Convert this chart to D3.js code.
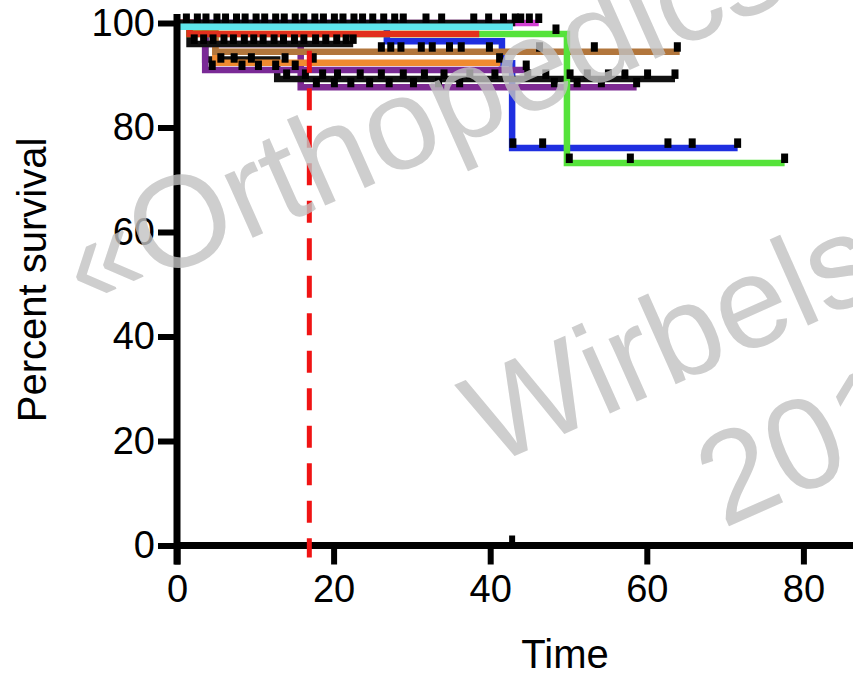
<!DOCTYPE html>
<html>
<head>
<meta charset="utf-8">
<script src="https://cdn.jsdelivr.net/npm/d3@7"></script>
<style>
  body { margin: 0; background: #fff; }
  svg { display: block; font-family: "Liberation Sans", Arial, Helvetica, sans-serif; }
</style>
</head>
<body>
<div id="km_chart"></div>
<script>
// Tick labels
var xTicks = [0, 20, 40, 60, 80];
var yTicks = [0, 20, 40, 60, 80, 100];

// Survival curves: step points [time, percent], last time, censored times
var blue = { color: "#1f2fe0", steps: [[0, 100], [26.8, 96.5], [41.5, 92.3], [42.8, 76.1]], end: 71.6,
  censor: [42.9, 46.7, 62.7, 65.8, 71.6] };
var blackA = { color: "#111111", steps: [[0, 100]], end: 43.2,
  censor: [1.2, 2.6, 3.7, 5.1, 6.2, 7.6, 8.7, 10.1, 11.2, 12.6, 13.7, 15.1, 16.2, 17.6, 18.7, 20.1, 21.2, 22.6, 23.7, 25.0, 26.4, 27.8, 28.9, 31.8, 33.8, 37.9, 39.8, 41.7, 43.2] };
var magenta = { color: "#d23fd2", steps: [[0, 100]], end: 46.2, censor: [43.9, 45.0, 46.2] };
var green = { color: "#55e33a", steps: [[0, 100], [1.6, 97.9], [49.8, 73.2]], end: 77.6, censor: [48.4, 50.1, 57.9, 77.6] };
var red = { color: "#e2301c", steps: [[0, 100], [1.6, 97.9]], end: 38.6, censor: [] };
var cyan = { color: "#5ee6ec", steps: [[0, 99.3]], end: 42.9, censor: [] };
var purpleB = { color: "#7d2a92", steps: [[0, 100], [3.6, 96], [15.8, 87.7]], end: 58.7,
  censor: [17.8, 20.1, 22.2, 24.6, 27.1, 30.2, 33.4, 36.1, 48.2, 51.1, 54.2, 58.7] };
var blackC = { color: "#111111", steps: [[0, 100], [3.6, 93], [12.8, 89.3]], end: 63.6,
  censor: [14.0, 16.4, 18.6, 20.5, 23.4, 26.1, 28.9, 31.6, 34.1, 37.4, 40.6, 44.8, 47.1, 50.2, 52.4, 55.1, 57.2, 60.1, 63.6] };
var purpleA = { color: "#7a2a96", steps: [[0, 100], [3.6, 91]], end: 45, censor: [4.5, 8.3, 10.4, 12.6, 15.1, 44.6] };
var orange = { color: "#f08a30", steps: [[0, 100], [1.6, 98], [4.9, 92.4]], end: 41.3, censor: [5.6, 7.3, 9.5, 13.8, 17.4, 41.2] };
var brown = { color: "#b2763c", steps: [[0, 100], [1.6, 98], [4.9, 94.5]], end: 64.2,
  censor: [26.1, 27.3, 28.6, 31.2, 32.6, 34.8, 36.3, 39.9, 46.3, 53.3, 63.9] };
var blackB = { color: "#111111", steps: [[0, 100], [1.6, 96]], end: 22.5,
  censor: [2.2, 3.4, 4.6, 6.0, 7.2, 8.6, 9.8, 11.0, 12.4, 13.6, 15.0, 16.2, 17.7, 19.0, 20.4, 21.6, 22.5] };

var series = [blue, purpleB, blackC, purpleA, orange, brown, blackB, green, red, magenta, blackA, cyan];
var axisCensor = [42.8];
var cutoffTime = 16.9;
var cutoffTop = 94.7;

var watermark = ["\u00abOrthopedics", "Wirbels\u00e4ule", "2014\u00bb"];

var width = 853, height = 677;

var svg = d3.select("#km_chart")
  .append("svg")
  .attr("width", width)
  .attr("height", height);

var x = d3.scaleLinear().domain([0, 100]).range([177, 960]);
var y = d3.scaleLinear().domain([0, 100]).range([545.5, 23]);

// Step curves
var line = d3.line()
  .x(function(d) { return x(d[0]); })
  .y(function(d) { return y(d[1]); })
  .curve(d3.curveStepAfter);

series.forEach(function(s) {
  var pts = s.steps.slice();
  pts.push([s.end, s.steps[s.steps.length - 1][1]]);
  svg.append("path")
    .attr("d", line(pts))
    .attr("fill", "none")
    .attr("stroke", s.color)
    .attr("stroke-width", 6.5);
});

// Censor ticks
function valueAt(s, t) {
  var v = s.steps[0][1];
  s.steps.forEach(function(p) { if (p[0] <= t) v = p[1]; });
  return v;
}
series.forEach(function(s) {
  svg.append("g")
    .selectAll("rect")
    .data(s.censor)
    .enter().append("rect")
    .attr("x", function(d) { return x(d) - 3.5; })
    .attr("y", function(d) { return y(valueAt(s, d)) - 9.5; })
    .attr("width", 7)
    .attr("height", 9.5)
    .attr("fill", "#000");
});

// Axes
var xAxis = svg.append("g")
  .attr("transform", "translate(0," + y(0) + ")")
  .call(d3.axisBottom(x).tickValues(xTicks).tickSize(19).tickSizeOuter(0).tickPadding(8));
var yAxis = svg.append("g")
  .attr("transform", "translate(" + x(0) + ",0)")
  .call(d3.axisLeft(y).tickValues(yTicks).tickSize(19).tickSizeOuter(0).tickPadding(3));

[xAxis, yAxis].forEach(function(a) {
  a.select(".domain").remove();
  a.selectAll(".tick line").attr("stroke", "#000").attr("stroke-width", 6);
  a.selectAll(".tick text")
    .attr("fill", "#000")
    .style("font-size", "38px");
});
xAxis.selectAll(".tick text").attr("dy", "0.78em");

svg.append("line")
  .attr("x1", x(0)).attr("x2", width)
  .attr("y1", y(0)).attr("y2", y(0))
  .attr("stroke", "#000").attr("stroke-width", 7);
svg.append("line")
  .attr("x1", x(0)).attr("x2", x(0))
  .attr("y1", y(0) + 19).attr("y2", y(101.7))
  .attr("stroke", "#000").attr("stroke-width", 7);

svg.selectAll(".axisCensor")
  .data(axisCensor)
  .enter().append("rect")
  .attr("x", function(d) { return x(d) - 3; })
  .attr("y", y(0) - 10)
  .attr("width", 6)
  .attr("height", 10)
  .attr("fill", "#000");

// Dashed cut-off line
svg.append("line")
  .attr("x1", x(cutoffTime)).attr("x2", x(cutoffTime))
  .attr("y1", y(cutoffTop)).attr("y2", y(0) + 12)
  .attr("stroke", "#f01414")
  .attr("stroke-width", 5)
  .attr("stroke-dasharray", "22,15.5");

// Axis titles
svg.append("text")
  .attr("x", 565).attr("y", 668)
  .attr("text-anchor", "middle")
  .style("font-size", "40px")
  .text("Time");
svg.append("text")
  .attr("transform", "translate(46,280) rotate(-90)")
  .attr("text-anchor", "middle")
  .style("font-size", "40px")
  .text("Percent survival");

// Watermark
var wmPos = [[86, 312], [490, 467], [723, 529]];
svg.append("g")
  .selectAll("text")
  .data(watermark)
  .enter().append("text")
  .attr("transform", function(d, i) { return "translate(" + wmPos[i][0] + "," + wmPos[i][1] + ") rotate(-24)"; })
  .attr("fill", "#c2c2c2")
  .attr("opacity", 0.8)
  .style("font-size", "130px")
  .text(function(d) { return d; });
</script>
</body>
</html>
